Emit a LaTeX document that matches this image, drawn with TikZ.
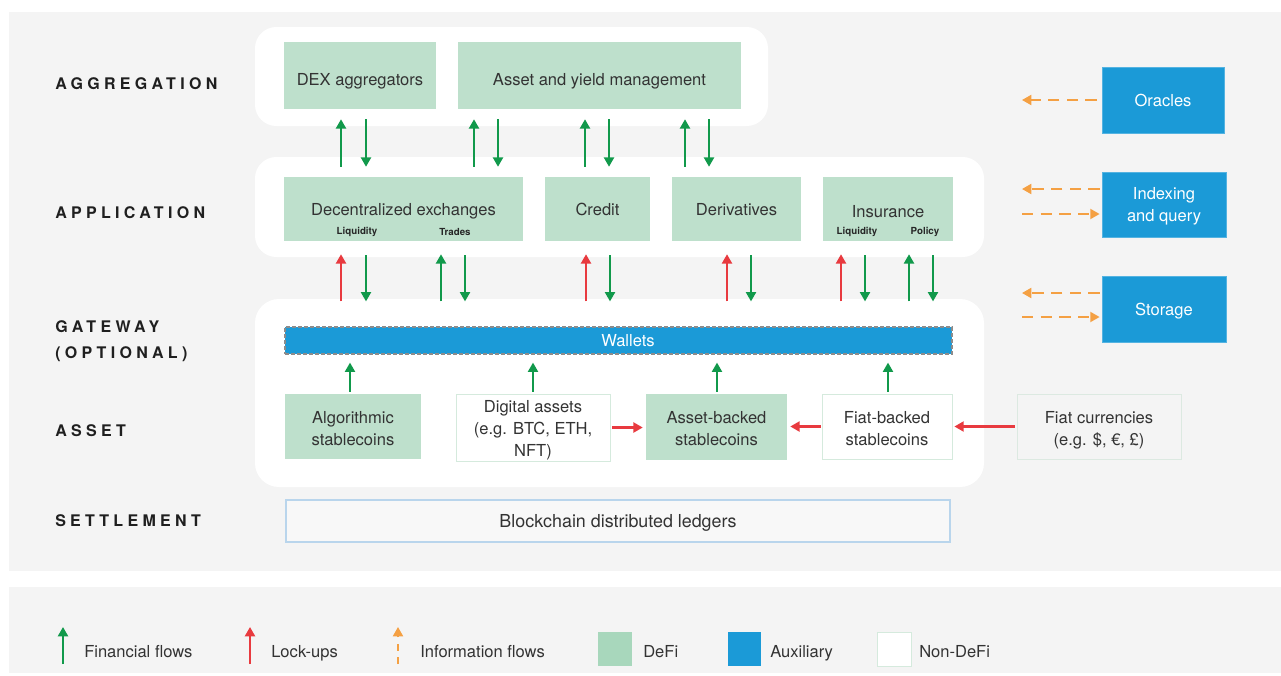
\documentclass[tikz,border=0pt]{standalone}
\usepackage{fontspec}
\setmainfont{TeX Gyre Heros}
\newfontfamily\layerfont[LetterSpace=27]{TeX Gyre Heros}
\usetikzlibrary{arrows.meta}
\definecolor{bgpanel}{HTML}{F4F4F4}
\definecolor{defi}{HTML}{BEE0CC}
\definecolor{defisw}{HTML}{A8D7BC}
\definecolor{aux}{HTML}{1B9AD7}
\definecolor{fing}{HTML}{11994B}
\definecolor{lockr}{HTML}{E83A3F}
\definecolor{infoo}{HTML}{F4A043}
\definecolor{txt}{HTML}{333333}
\definecolor{nondefibd}{HTML}{D5EADD}
\definecolor{ledgerbd}{HTML}{B9D5EC}
\definecolor{fiatbd}{HTML}{DCE9E1}
\newcommand\diagfont{\fontsize{12.4}{16.5}\selectfont}
\tikzset{
  box/.style={inner sep=0pt, align=center, text=txt, font=\diagfont},
  sz/.style 2 args={minimum width={#1*0.75pt}, minimum height={#2*0.75pt}},
  down/.style={yshift={-#1*0.75pt}},
  defibox/.style={box, fill=defi},
  nondefi/.style={box, fill=white, draw=nondefibd, line width=0.6pt},
  auxbox/.style={box, fill=aux, text=white, draw=aux!75!white, line width=0.6pt},
  auxtext/.style={box, text=white},
  fin/.style={draw=fing, line width=1.6pt, -{Triangle[width=7.5pt,length=7pt]}},
  lock/.style={draw=lockr, line width=1.6pt, -{Triangle[width=7.5pt,length=7pt]}},
  info/.style={draw=infoo, line width=1.5pt, dash pattern=on 8.5pt off 5.5pt, -{Triangle[width=7.5pt,length=7pt]}},
  sh/.style 2 args={shorten <={#1*0.75pt}, shorten >={#2*0.75pt}},
  layer/.style={anchor=base west, inner sep=0pt, font=\layerfont\bfseries\fontsize{12}{19.5}\selectfont, text=black!88},
  small/.style={inner sep=0pt, font=\bfseries\fontsize{7.3}{8}\selectfont, text=black!85},
  legtext/.style={anchor=base west, inner sep=0pt, text=txt, font=\diagfont},
}
\begin{document}
\begin{tikzpicture}[x=0.75pt,y=-0.75pt]
% canvas and panels
\fill[white] (0,0) rectangle (1281,675);
\useasboundingbox (0,0) rectangle (1281,675);
\fill[bgpanel] (9,12) rectangle (1281,571);
\fill[bgpanel] (9,587) rectangle (1281,673);
\fill[white, rounded corners=16pt] (255,27) rectangle (768,126);
\fill[white, rounded corners=16pt] (255,157) rectangle (984,257);
\fill[white, rounded corners=18pt] (255,299) rectangle (984,487);

% layer labels
\node[layer] (lagg) at (55,89) {AGGREGATION};
\node[layer] (lapp) at (55,218) {APPLICATION};
\node[layer] (lgw) at (55,332) {GATEWAY};
\node[layer] (lopt) at (55,358) {(OPTIONAL)};
\node[layer] (lasset) at (55,436) {ASSET};
\node[layer] (lsett) at (55,526) {SETTLEMENT};

% aggregation
\node[defibox, sz={152}{67}] (dexagg) at (360,75.5) {};
\node[box, down=5.5] (dexaggt) at (dexagg) {DEX aggregators};
\node[defibox, sz={283}{67}] (aym) at (599.5,75.5) {};
\node[box, down=5.5] (aymt) at (aym) {Asset and yield management};

% application
\node[defibox, sz={239}{64}] (dexex) at (403.5,209) {};
\node[box, down=2] (dexext) at (dexex) {Decentralized exchanges};
\node[defibox, sz={105}{64}] (credit) at (597.5,209) {};
\node[box, down=0.5] (creditt) at (credit) {Credit};
\node[defibox, sz={129}{64}] (deriv) at (736.5,209) {};
\node[box, down=1] (derivt) at (deriv) {Derivatives};
\node[defibox, sz={130}{64}] (insur) at (888,209) {};
\node[box, down=2.5] (insurt) at (insur) {Insurance};
\node[small] (liq1) at (357,232) {Liquidity};
\node[small] (trades) at (455,232) {Trades};
\node[small] (liq2) at (857,232) {Liquidity};
\node[small] (policy) at (925,232) {Policy};

% gateway
\node[box, fill=aux, draw=black!45, dash pattern=on 3pt off 1.5pt, line width=0.9pt, sz={667}{27}] (wallets) at (618.5,340.5) {};
\node[auxtext, down=0.5] (walletst) at (628,340.5) {Wallets};

% asset
\node[defibox, sz={136}{65}] (algo) at (353,426.5) {};
\node[box, down=2] (algot) at (algo) {Algorithmic\\stablecoins};
\node[nondefi, sz={154}{67}] (digital) at (533,427.5) {};
\node[box, down=2.5] (digitalt) at (digital) {Digital assets\\(e.g. BTC, ETH,\\NFT)};
\node[defibox, sz={141}{66}] (assetb) at (716.5,427) {};
\node[box, down=2] (assetbt) at (assetb) {Asset-backed\\stablecoins};
\node[nondefi, sz={130}{65}] (fiatb) at (887,426.5) {};
\node[box, down=2] (fiatbt) at (fiatb) {Fiat-backed\\stablecoins};
\node[box, fill=bgpanel, draw=fiatbd, line width=0.6pt, sz={164}{65}] (fiatc) at (1099,426.5) {};
\node[box, down=3.5] (fiatct) at (fiatc) {Fiat currencies\\(e.g. \$, €, £)};

% settlement
\node[box, fill=white!40!bgpanel, draw=ledgerbd, line width=0.9pt, sz={664}{42}] (ledger) at (618,521) {};
\node[box, down=2, font=\fontsize{13.4}{16}\selectfont] (ledgert) at (ledger) {Blockchain distributed ledgers};

% auxiliary
\node[auxbox, sz={122}{66}] (oracles) at (1163,100) {};
\node[auxtext, down=0.5] (oraclest) at (oracles) {Oracles};
\node[auxbox, sz={124}{65}] (indexing) at (1164,204.5) {};
\node[auxtext, down=2] (indexingt) at (indexing) {Indexing\\and query};
\node[auxbox, sz={124}{66}] (storage) at (1164,309) {};
\node[auxtext, down=2] (storaget) at (storage) {Storage};

% x positions of vertical arrows
\foreach \n/\x in {a1/341,a2/366,a3/474,a4/498,a5/585,a6/609,a7/685,a8/709,
  b1/341,b2/366,b3/441,b4/465,b5/586,b6/610,b7/727,b8/751,b9/841,b10/865,b11/909,b12/933,
  c1/350,c2/533,c3/717,c4/888}
  \coordinate (\n) at (\x,0);

% application <-> aggregation
\draw[fin, sh={10}{10}] (dexex.north -| a1) -- (dexagg.south -| a1);
\draw[fin, sh={10}{10}] (dexagg.south -| a2) -- (dexex.north -| a2);
\draw[fin, sh={10}{10}] (dexex.north -| a3) -- (aym.south -| a3);
\draw[fin, sh={10}{10}] (aym.south -| a4) -- (dexex.north -| a4);
\draw[fin, sh={10}{10}] (credit.north -| a5) -- (aym.south -| a5);
\draw[fin, sh={10}{10}] (aym.south -| a6) -- (credit.north -| a6);
\draw[fin, sh={10}{10}] (deriv.north -| a7) -- (aym.south -| a7);
\draw[fin, sh={10}{10}] (aym.south -| a8) -- (deriv.north -| a8);

% gateway <-> application
\draw[lock, sh={25}{13}] (wallets.north -| b1) -- (dexex.south -| b1);
\draw[fin, sh={14}{25}] (dexex.south -| b2) -- (wallets.north -| b2);
\draw[fin, sh={25}{13}] (wallets.north -| b3) -- (dexex.south -| b3);
\draw[fin, sh={14}{25}] (dexex.south -| b4) -- (wallets.north -| b4);
\draw[lock, sh={25}{13}] (wallets.north -| b5) -- (credit.south -| b5);
\draw[fin, sh={14}{25}] (credit.south -| b6) -- (wallets.north -| b6);
\draw[lock, sh={25}{13}] (wallets.north -| b7) -- (deriv.south -| b7);
\draw[fin, sh={14}{25}] (deriv.south -| b8) -- (wallets.north -| b8);
\draw[lock, sh={25}{13}] (wallets.north -| b9) -- (insur.south -| b9);
\draw[fin, sh={14}{25}] (insur.south -| b10) -- (wallets.north -| b10);
\draw[fin, sh={25}{13}] (wallets.north -| b11) -- (insur.south -| b11);
\draw[fin, sh={14}{25}] (insur.south -| b12) -- (wallets.north -| b12);

% asset -> wallets
\draw[fin, sh={2}{8}] (algo.north -| c1) -- (wallets.south -| c1);
\draw[fin, sh={2}{8}] (digital.north -| c2) -- (wallets.south -| c2);
\draw[fin, sh={2}{8}] (assetb.north -| c3) -- (wallets.south -| c3);
\draw[fin, sh={2}{8}] (fiatb.north -| c4) -- (wallets.south -| c4);

% lock-ups between assets
\draw[lock, sh={2}{3}] (digital.east) -- (digital.east -| assetb.west);
\draw[lock, sh={1}{3}] (fiatb.west) -- (fiatb.west -| assetb.east);
\draw[lock, sh={2}{2}] (fiatc.west) -- (fiatc.west -| fiatb.east);

% information flows
\coordinate (o1) at (1022,100);
\coordinate (i1) at (1022,189);
\coordinate (i2) at (1022,214);
\coordinate (s1) at (1022,293);
\coordinate (s2) at (1022,317);
\draw[info, sh={5}{0}] (oracles.west) -- (o1);
\draw[info, sh={2}{0}] (indexing.west |- i1) -- (i1);
\draw[info, sh={0}{2}] (i2) -- (indexing.west |- i2);
\draw[info, sh={2}{0}] (storage.west |- s1) -- (s1);
\draw[info, sh={0}{2}] (s2) -- (storage.west |- s2);

% legend
\coordinate (lfa) at (63,664); \coordinate (lfb) at (63,627);
\coordinate (lla) at (250,664); \coordinate (llb) at (250,627);
\coordinate (lia) at (398,664); \coordinate (lib) at (398,627);
\draw[fin] (lfa) -- (lfb);
\draw[lock] (lla) -- (llb);
\draw[info, dash pattern=on 5pt off 5pt] (lia) -- (lib);
\node[legtext] (tfin) at (84,657) {Financial flows};
\node[legtext] (tlock) at (271,657) {Lock-ups};
\node[legtext] (tinfo) at (420,657) {Information flows};
\node[fill=defisw, sz={34}{34}, inner sep=0pt] (swdefi) at (615,649) {};
\node[legtext] (tdefi) at (643,657) {DeFi};
\node[fill=aux, sz={33}{34}, inner sep=0pt] (swaux) at (744.5,649) {};
\node[legtext] (taux) at (770,657) {Auxiliary};
\node[fill=white, draw=nondefibd, line width=0.6pt, sz={34}{34}, inner sep=0pt] (swnon) at (894,649) {};
\node[legtext] (tnon) at (919,657) {Non-DeFi};
\end{tikzpicture}
\end{document}
